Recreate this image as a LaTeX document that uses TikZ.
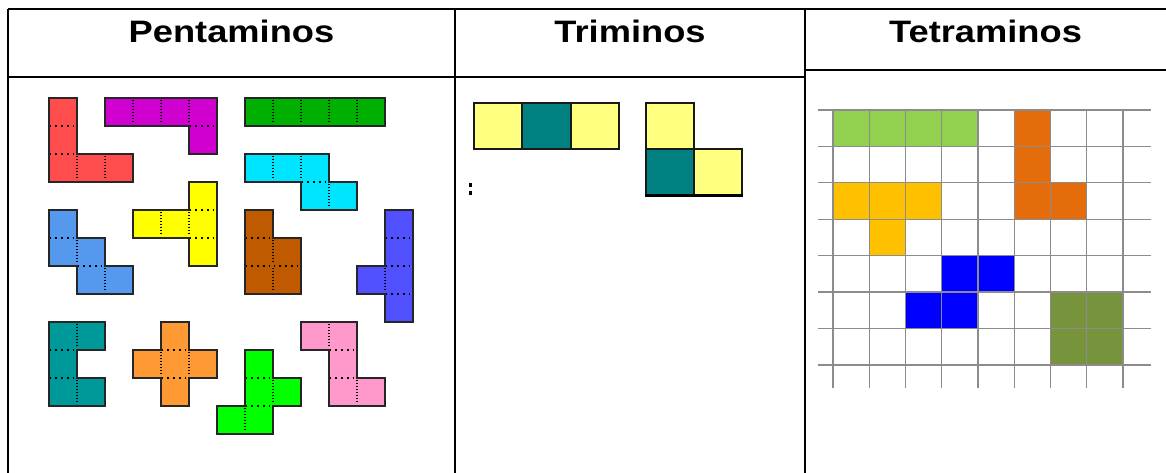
\documentclass[tikz,border=0pt]{standalone}
\usepackage{fontspec}
\newfontfamily\hdrfont[FakeStretch=1.17]{Liberation Sans}
\usetikzlibrary{calc}
\definecolor{pred}{RGB}{255,77,77}
\definecolor{pmagenta}{RGB}{208,0,208}
\definecolor{pgreen}{RGB}{0,176,0}
\definecolor{pcyan}{RGB}{0,229,255}
\definecolor{psky}{RGB}{85,153,238}
\definecolor{pyellow}{RGB}{255,255,0}
\definecolor{pbrown}{RGB}{191,90,0}
\definecolor{pviolet}{RGB}{80,80,255}
\definecolor{pteal}{RGB}{0,153,153}
\definecolor{porange}{RGB}{255,153,51}
\definecolor{plime}{RGB}{0,255,0}
\definecolor{ppink}{RGB}{255,153,204}
\definecolor{triyel}{RGB}{255,255,128}
\definecolor{triteal}{RGB}{0,128,128}
\definecolor{tgreen}{RGB}{146,208,80}
\definecolor{torange}{RGB}{228,108,10}
\definecolor{tamber}{RGB}{255,192,0}
\definecolor{tblue}{RGB}{0,0,255}
\definecolor{tolive}{RGB}{119,147,60}
\tikzset{
  hdr/.style={font=\hdrfont\bfseries\fontsize{31}{36}\selectfont,
    inner sep=0pt, anchor=base},
  rule/.style={line width=2pt, color=black},
  piece/.style={line width=2.2pt, draw=black!85, line join=miter},
  seam/.style={line width=1.4pt, color=black,
    dash pattern=on 0pt off 5.3pt on 1pt off 4.8pt on 1pt off 4.8pt on 1pt off 4.8pt on 1pt off 5.3pt},
  tricell/.style={line width=2pt, draw=black!90},
  gridline/.style={line width=1.4pt, color=black!45}
}
% fill the cells, dot the seams, then the outline
\newcommand{\pento}[3]{%
  \foreach \c/\r in {#2} {\fill[#1] (\c,\r) rectangle ++(1,1);}
  \foreach \c/\r in {#2} {\draw[seam] (\c,\r) rectangle ++(1,1);}
  \draw[piece] #3 -- cycle;}

\begin{document}
\begin{tikzpicture}[x=1pt, y=-1pt]
  \useasboundingbox (0,0) rectangle (1166,473);
  % table
  \draw[rule] (8,9) -- (1166,9);
  \draw[rule] (8,9) -- (8,473);
  \draw[rule] (455,9) -- (455,473);
  \draw[rule] (805,9) -- (805,473);
  \draw[rule] (8,77) -- (805,77);
  \draw[line width=1.3pt] (805,70) -- (1166,70);
  \draw[line width=2.4pt] (805,70) -- (818,70) (1151,70) -- (1166,70);
  \node[hdr] (pent) at (231.5,42.3) {Pentaminos};
  \node[hdr] (tri) at (630,42.3) {Triminos};
  \node[hdr] (tetra) at (985.5,42.3) {Tetraminos};

  % pentaminos
  \begin{scope}[shift={(49,98)}, x=28pt, y=-28pt]
    \pento{pred}{0/0,0/1,0/2,1/2,2/2}{(0,0) -- (1,0) -- (1,2) -- (3,2) -- (3,3) -- (0,3)}
    \pento{pmagenta}{2/0,3/0,4/0,5/0,5/1}{(2,0) -- (6,0) -- (6,2) -- (5,2) -- (5,1) -- (2,1)}
    \pento{pgreen}{7/0,8/0,9/0,10/0,11/0}{(7,0) -- (12,0) -- (12,1) -- (7,1)}
    \pento{pcyan}{7/2,8/2,9/2,9/3,10/3}{(7,2) -- (10,2) -- (10,3) -- (11,3) -- (11,4) -- (9,4) -- (9,3) -- (7,3)}
    \pento{psky}{0/4,0/5,1/5,1/6,2/6}{(0,4) -- (1,4) -- (1,5) -- (2,5) -- (2,6) -- (3,6) -- (3,7) -- (1,7) -- (1,6) -- (0,6)}
    \pento{pyellow}{5/3,5/4,5/5,3/4,4/4}{(5,3) -- (6,3) -- (6,6) -- (5,6) -- (5,5) -- (3,5) -- (3,4) -- (5,4)}
    \pento{pbrown}{7/4,7/5,8/5,7/6,8/6}{(7,4) -- (8,4) -- (8,5) -- (9,5) -- (9,7) -- (7,7)}
    \pento{pviolet}{12/4,12/5,12/6,12/7,11/6}{(12,4) -- (13,4) -- (13,8) -- (12,8) -- (12,7) -- (11,7) -- (11,6) -- (12,6)}
    \pento{pteal}{0/8,1/8,0/9,0/10,1/10}{(0,8) -- (2,8) -- (2,9) -- (1,9) -- (1,10) -- (2,10) -- (2,11) -- (0,11)}
    \pento{porange}{4/8,3/9,4/9,5/9,4/10}{(4,8) -- (5,8) -- (5,9) -- (6,9) -- (6,10) -- (5,10) -- (5,11) -- (4,11) -- (4,10) -- (3,10) -- (3,9) -- (4,9)}
    \pento{plime}{7/9,7/10,8/10,6/11,7/11}{(7,9) -- (8,9) -- (8,10) -- (9,10) -- (9,11) -- (8,11) -- (8,12) -- (6,12) -- (6,11) -- (7,11)}
    \pento{ppink}{9/8,10/8,10/9,10/10,11/10}{(9,8) -- (11,8) -- (11,10) -- (12,10) -- (12,11) -- (10,11) -- (10,9) -- (9,9)}
  \end{scope}

  % triminos
  \foreach \x/\col in {474/triyel, 522.3/triteal, 570.6/triyel}
    \draw[tricell, fill=\col] (\x,103) rectangle ++(48.3,46);
  \foreach \x/\y/\col in {646/103/triyel, 646/149/triteal, 694/149/triyel}
    \draw[tricell, fill=\col] (\x,\y) rectangle ++(48,46);
  \draw[line width=3pt] (645,195.5) -- (743,195.5);
  \fill (468.5,183.5) rectangle (471.5,187);
  \fill (468.5,191) rectangle (471.5,194.5);

  % tetraminos
  \begin{scope}[shift={(833,110)}, x=36.25pt, y=-36.4pt]
    \foreach \c in {0,...,3} \fill[tgreen] (\c,0) rectangle ++(1,1);
    \foreach \c/\r in {5/0,5/1,5/2,6/2} \fill[torange] (\c,\r) rectangle ++(1,1);
    \foreach \c/\r in {0/2,1/2,2/2,1/3} \fill[tamber] (\c,\r) rectangle ++(1,1);
    \foreach \c/\r in {3/4,4/4,2/5,3/5} \fill[tblue] (\c,\r) rectangle ++(1,1);
    \foreach \c/\r in {6/5,7/5,6/6,7/6} \fill[tolive] (\c,\r) rectangle ++(1,1);
    \foreach \r in {0,...,7} \draw[gridline] (-0.414,\r) -- (8.77,\r);
    \foreach \c in {0,...,8} \draw[gridline] (\c,0) -- (\c,7.64);
  \end{scope}
\end{tikzpicture}
\end{document}
